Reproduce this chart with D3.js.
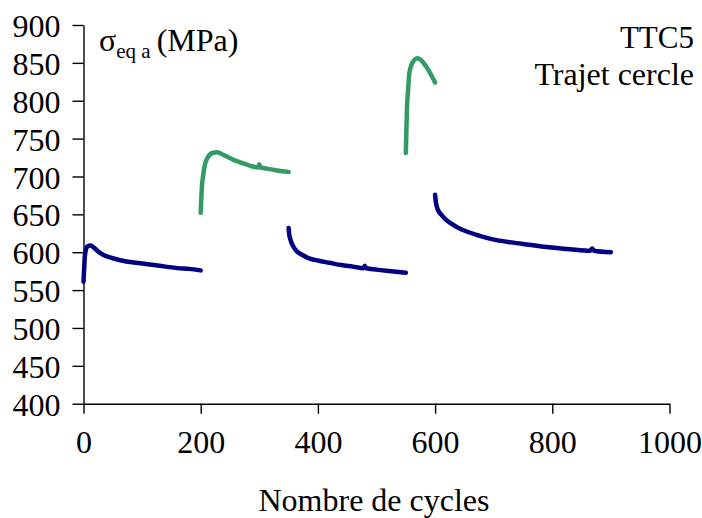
<!DOCTYPE html>
<html>
<head>
<meta charset="utf-8">
<script src="https://cdn.jsdelivr.net/npm/d3@7"></script>
<style>
  html, body { margin: 0; padding: 0; background: #fff; }
  svg { display: block; }
  text { font-family: "Liberation Serif", "Times New Roman", serif; fill: #000; }
</style>
</head>
<body>
<svg id="chart" width="702" height="518"></svg>
<script>
// ---- data ----
const xTicks = [0, 200, 400, 600, 800, 1000];
const yTicks = [400, 450, 500, 550, 600, 650, 700, 750, 800, 850, 900];

// [cycle, sigma_eq_a (MPa)]
const seg1Navy = [[0,561],[1,576],[2,592],[4,603],[7,608],[12,609],[18,606],[25,601],[35,596],[50,592],[65,589],[80,587],[100,585],[120,583],[140,581],[160,579],[180,578],[200,576]];
const seg2Green = [[200,652],[201,670],[202,686],[204,700],[207,715],[212,725],[220,731],[228,732],[240,728],[256,722],[270,718],[285,714],[298,712],[300,716],[302,712],[315,710],[330,708],[350,706]];
const seg3Navy = [[350,632],[351,624],[353,617],[357,609],[363,602],[372,597],[385,592],[400,589],[420,586],[440,583],[460,581],[478,579],[480,582],[482,579],[500,577],[525,575],[550,573]];
const seg4Green = [[550,731],[551,760],[552,790],[554,815],[556,836],[560,848],[565,854],[570,856],[578,852],[585,845],[592,836],[600,824]];
const seg5Navy = [[600,676],[601,668],[603,660],[606,654],[610,650],[617,644],[627,638],[640,632],[655,627],[675,622],[705,616],[730,613],[760,610],[790,607],[830,604],[865,602],[868,605],[871,602],[900,600]];

const series = [
  { data: seg1Navy, color: "#000080" },
  { data: seg2Green, color: "#339966" },
  { data: seg3Navy, color: "#000080" },
  { data: seg4Green, color: "#339966" },
  { data: seg5Navy, color: "#000080" }
];

// ---- layout ----
const svg = d3.select("#chart");
const x = d3.scaleLinear().domain([0, 1000]).range([83.5, 669.5]);
const y = d3.scaleLinear().domain([400, 900]).range([403.7, 25]);

// axes
const xAxis = d3.axisBottom(x).tickValues(xTicks).tickSize(10).tickSizeOuter(0).tickPadding(17).tickFormat(d3.format("d"));
const yAxis = d3.axisLeft(y).tickValues(yTicks).tickSize(11).tickSizeOuter(0).tickPadding(12).tickFormat(d3.format("d"));

const gx = svg.append("g").attr("transform", `translate(0,${y(400)})`).call(xAxis);
const gy = svg.append("g").attr("transform", `translate(${x(0)},0)`).call(yAxis);

[gx, gy].forEach(g => {
  g.select(".domain").attr("stroke", "#000").attr("stroke-width", 1.4);
  g.selectAll(".tick line").attr("stroke", "#000").attr("stroke-width", 1.4);
  g.selectAll(".tick text").style("font-family", "'Liberation Serif', serif").style("font-size", "32px").attr("fill", "#000");
});
gy.selectAll(".tick text").attr("dy", "0.36em");

// lines
const line = d3.line().x(d => x(d[0])).y(d => y(d[1])).curve(d3.curveMonotoneX);
svg.append("g").selectAll("path").data(series).join("path")
  .attr("d", d => line(d.data))
  .attr("fill", "none")
  .attr("stroke", d => d.color)
  .attr("stroke-width", 4.5)
  .attr("stroke-linejoin", "round")
  .attr("stroke-linecap", "round");

// y label
const yl = svg.append("text").attr("x", 99).attr("y", 51).style("font-size", "32px");
yl.append("tspan").text("σ");
yl.append("tspan").attr("dy", 7).style("font-size", "21px").text("eq a");
yl.append("tspan").attr("dy", -7).attr("dx", 6).text("(MPa)");

// annotation
svg.append("text").attr("x", 694).attr("y", 48).attr("text-anchor", "end").style("font-size", "31px").text("TTC5");
svg.append("text").attr("x", 694).attr("y", 85).attr("text-anchor", "end").style("font-size", "32px").text("Trajet cercle");

// x label
svg.append("text").attr("x", 374).attr("y", 511).attr("text-anchor", "middle").style("font-size", "32px").text("Nombre de cycles");
</script>
</body>
</html>
